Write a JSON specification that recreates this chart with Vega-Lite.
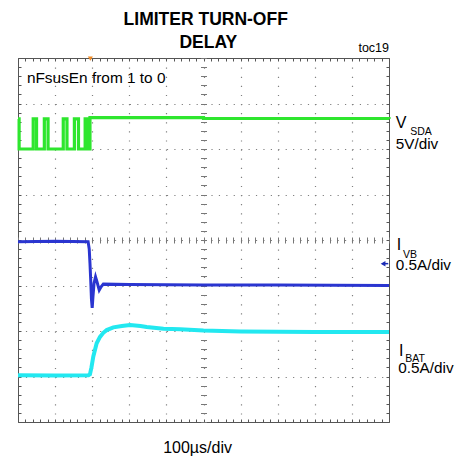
{
  "$schema": "https://vega.github.io/schema/vega-lite/v6.json",
  "width": 371,
  "height": 364,
  "autosize": "none",
  "padding": {"left": 18, "top": 58, "right": 71, "bottom": 38},
  "background": "white",
  "config": {
    "view": {"stroke": "#555555", "strokeWidth": 1},
    "font": "Liberation Sans",
    "text": {"font": "Liberation Sans", "fontSize": 15.3, "color": "#000000", "align": "left", "baseline": "alphabetic"}
  },
  "datasets": {
    "traces": [
      {"series": "VSDA", "t": 0, "v": 6.66},
      {"series": "VSDA", "t": 3, "v": 6.0},
      {"series": "VSDA", "t": 41, "v": 6.66},
      {"series": "VSDA", "t": 50, "v": 6.0},
      {"series": "VSDA", "t": 71, "v": 6.66},
      {"series": "VSDA", "t": 81, "v": 6.0},
      {"series": "VSDA", "t": 122, "v": 6.66},
      {"series": "VSDA", "t": 132, "v": 6.0},
      {"series": "VSDA", "t": 152, "v": 6.66},
      {"series": "VSDA", "t": 163, "v": 6.0},
      {"series": "VSDA", "t": 181, "v": 6.66},
      {"series": "VSDA", "t": 188, "v": 6.0},
      {"series": "VSDA", "t": 194, "v": 6.69},
      {"series": "VSDA", "t": 300, "v": 6.69},
      {"series": "VSDA", "t": 500, "v": 6.67},
      {"series": "VSDA", "t": 700, "v": 6.67},
      {"series": "VSDA", "t": 1000, "v": 6.66},
      {"series": "IVB", "t": 0, "v": 3.96},
      {"series": "IVB", "t": 100, "v": 3.97},
      {"series": "IVB", "t": 189, "v": 3.96},
      {"series": "IVB", "t": 192, "v": 3.8},
      {"series": "IVB", "t": 194, "v": 3.49},
      {"series": "IVB", "t": 196, "v": 3.12},
      {"series": "IVB", "t": 198, "v": 2.7},
      {"series": "IVB", "t": 200, "v": 2.51},
      {"series": "IVB", "t": 202, "v": 2.75},
      {"series": "IVB", "t": 205, "v": 3.05},
      {"series": "IVB", "t": 209, "v": 3.19},
      {"series": "IVB", "t": 213, "v": 3.08},
      {"series": "IVB", "t": 219, "v": 2.9},
      {"series": "IVB", "t": 224, "v": 2.97},
      {"series": "IVB", "t": 230, "v": 3.03},
      {"series": "IVB", "t": 300, "v": 3.02},
      {"series": "IVB", "t": 500, "v": 3.01},
      {"series": "IVB", "t": 700, "v": 3.01},
      {"series": "IVB", "t": 1000, "v": 3.0},
      {"series": "IBAT", "t": 0, "v": 1.03},
      {"series": "IBAT", "t": 100, "v": 1.02},
      {"series": "IBAT", "t": 190, "v": 1.03},
      {"series": "IBAT", "t": 194, "v": 1.05},
      {"series": "IBAT", "t": 198, "v": 1.2},
      {"series": "IBAT", "t": 203, "v": 1.44},
      {"series": "IBAT", "t": 212, "v": 1.73},
      {"series": "IBAT", "t": 221, "v": 1.87},
      {"series": "IBAT", "t": 230, "v": 1.96},
      {"series": "IBAT", "t": 239, "v": 2.02},
      {"series": "IBAT", "t": 257, "v": 2.08},
      {"series": "IBAT", "t": 280, "v": 2.11},
      {"series": "IBAT", "t": 302, "v": 2.13},
      {"series": "IBAT", "t": 330, "v": 2.11},
      {"series": "IBAT", "t": 347, "v": 2.09},
      {"series": "IBAT", "t": 392, "v": 2.05},
      {"series": "IBAT", "t": 437, "v": 2.04},
      {"series": "IBAT", "t": 500, "v": 2.01},
      {"series": "IBAT", "t": 600, "v": 1.99},
      {"series": "IBAT", "t": 800, "v": 1.98},
      {"series": "IBAT", "t": 1000, "v": 1.98}
    ]
  },
  "data": {"name": "traces"},
  "layer": [
    {
      "mark": {"type": "point", "opacity": 0},
      "encoding": {
        "x": {"field": "t", "type": "quantitative", "scale": {"domain": [0, 1000], "nice": false, "zero": false},
          "axis": {"orient": "bottom", "title": null, "labels": false, "domain": false, "tickCount": 50,
            "ticks": true, "tickSize": -3, "tickColor": "#555555", "tickWidth": 1,
            "grid": true, "gridColor": "#808080", "gridWidth": 1.2, "gridDash": [1.2, 7.9],
            "gridOpacity": {"condition": {"test": "datum.value % 100 === 0 && datum.value > 0 && datum.value < 1000", "value": 1}, "value": 0}}},
        "y": {"field": "v", "type": "quantitative", "scale": {"domain": [0, 8], "nice": false, "zero": false},
          "axis": {"orient": "left", "title": null, "labels": false, "domain": false, "tickCount": 40,
            "ticks": true, "tickSize": -3, "tickColor": "#555555", "tickWidth": 1,
            "grid": true, "gridColor": "#808080", "gridWidth": 1.2, "gridDash": [1.2, 6.22],
            "gridOpacity": {"condition": {"test": "abs(datum.value - round(datum.value)) < 0.001 && datum.value > 0.5 && datum.value < 7.5", "value": 1}, "value": 0}}}
      }
    },
    {
      "mark": {"type": "point", "opacity": 0},
      "encoding": {
        "x": {"field": "t", "type": "quantitative", "scale": {"domain": [0, 1000], "nice": false, "zero": false},
          "axis": {"orient": "top", "title": null, "labels": false, "domain": false, "grid": false, "tickCount": 50,
            "tickSize": -3, "tickColor": "#555555", "tickWidth": 1}},
        "y": {"field": "v", "type": "quantitative", "scale": {"domain": [0, 8], "nice": false, "zero": false},
          "axis": {"orient": "right", "title": null, "labels": false, "domain": false, "grid": false, "tickCount": 40,
            "tickSize": -3, "tickColor": "#555555", "tickWidth": 1}}
      }
    },
    {
      "mark": {"type": "point", "opacity": 0},
      "encoding": {
        "x": {"field": "t", "type": "quantitative", "scale": {"domain": [0, 1000], "nice": false, "zero": false},
          "axis": {"orient": "bottom", "offset": -185, "title": null, "labels": false, "domain": false, "grid": false, "tickCount": 50,
            "tickSize": 6, "tickColor": "#777777", "tickWidth": 1}},
        "y": {"field": "v", "type": "quantitative", "scale": {"domain": [0, 8], "nice": false, "zero": false},
          "axis": {"orient": "left", "offset": -188.5, "title": null, "labels": false, "domain": false, "grid": false, "tickCount": 40,
            "tickSize": 6, "tickColor": "#777777", "tickWidth": 1}}
      }
    },
    {
      "transform": [{"filter": "datum.series === 'VSDA'"}],
      "mark": {"type": "line", "interpolate": "step-after", "color": "#2ee62e", "strokeWidth": 3.2},
      "encoding": {
        "x": {"field": "t", "type": "quantitative", "scale": {"domain": [0, 1000]}, "axis": null},
        "y": {"field": "v", "type": "quantitative", "scale": {"domain": [0, 8]}, "axis": null}
      }
    },
    {
      "transform": [{"filter": "datum.series === 'IVB'"}],
      "mark": {"type": "line", "color": "#2a35d0", "strokeWidth": 3},
      "encoding": {
        "x": {"field": "t", "type": "quantitative", "scale": {"domain": [0, 1000]}, "axis": null},
        "y": {"field": "v", "type": "quantitative", "scale": {"domain": [0, 8]}, "axis": null}
      }
    },
    {
      "transform": [{"filter": "datum.series === 'IBAT'"}],
      "mark": {"type": "line", "color": "#22e8f0", "strokeWidth": 4},
      "encoding": {
        "x": {"field": "t", "type": "quantitative", "scale": {"domain": [0, 1000]}, "axis": null},
        "y": {"field": "v", "type": "quantitative", "scale": {"domain": [0, 8]}, "axis": null}
      }
    },
    {
      "data": {"values": [{}]},
      "mark": {"type": "point", "shape": "triangle-down", "filled": true, "color": "#f08a24", "size": 25, "opacity": 1},
      "encoding": {"x": {"datum": 195, "type": "quantitative", "axis": null}, "y": {"datum": 7.985, "type": "quantitative", "axis": null}}
    },
    {
      "data": {"values": [{}]},
      "mark": {"type": "rule", "color": "#1a2ab5", "strokeWidth": 1.5},
      "encoding": {"x": {"datum": 983, "type": "quantitative", "axis": null}, "x2": {"datum": 998}, "y": {"datum": 3.48, "type": "quantitative", "axis": null}}
    },
    {
      "data": {"values": [{}]},
      "mark": {"type": "point", "shape": "triangle-left", "filled": true, "color": "#1a2ab5", "size": 30, "opacity": 1},
      "encoding": {"x": {"datum": 984, "type": "quantitative", "axis": null}, "y": {"datum": 3.48, "type": "quantitative", "axis": null}}
    },
    {
      "data": {"values": [{}]},
      "mark": {"type": "text", "text": "LIMITER TURN-OFF", "fontWeight": "bold", "fontSize": 17.5, "align": "center"},
      "encoding": {"x": {"datum": 506, "type": "quantitative", "axis": null}, "y": {"datum": 8.725, "type": "quantitative", "axis": null}}
    },
    {
      "data": {"values": [{}]},
      "mark": {"type": "text", "text": "DELAY", "fontWeight": "bold", "fontSize": 17.5, "align": "center"},
      "encoding": {"x": {"datum": 513, "type": "quantitative", "axis": null}, "y": {"datum": 8.21, "type": "quantitative", "axis": null}}
    },
    {
      "data": {"values": [{}]},
      "mark": {"type": "text", "text": "toc19", "fontSize": 12.5, "align": "right"},
      "encoding": {"x": {"datum": 1000, "type": "quantitative", "axis": null}, "y": {"datum": 8.14, "type": "quantitative", "axis": null}}
    },
    {
      "data": {"values": [{}]},
      "mark": {"type": "text", "text": "nFsusEn from 1 to 0", "fontSize": 15.4},
      "encoding": {"x": {"datum": 24, "type": "quantitative", "axis": null}, "y": {"datum": 7.45, "type": "quantitative", "axis": null}}
    },
    {
      "data": {"values": [{}]},
      "mark": {"type": "text", "text": "V", "fontSize": 16},
      "encoding": {"x": {"datum": 1018, "type": "quantitative", "axis": null}, "y": {"datum": 6.46, "type": "quantitative", "axis": null}}
    },
    {
      "data": {"values": [{}]},
      "mark": {"type": "text", "text": "SDA", "fontSize": 10.5},
      "encoding": {"x": {"datum": 1057, "type": "quantitative", "axis": null}, "y": {"datum": 6.3, "type": "quantitative", "axis": null}}
    },
    {
      "data": {"values": [{}]},
      "mark": {"type": "text", "text": "5V/div"},
      "encoding": {"x": {"datum": 1018, "type": "quantitative", "axis": null}, "y": {"datum": 5.99, "type": "quantitative", "axis": null}}
    },
    {
      "data": {"values": [{}]},
      "mark": {"type": "text", "text": "I", "fontSize": 16},
      "encoding": {"x": {"datum": 1021, "type": "quantitative", "axis": null}, "y": {"datum": 3.78, "type": "quantitative", "axis": null}}
    },
    {
      "data": {"values": [{}]},
      "mark": {"type": "text", "text": "VB", "fontSize": 10.5},
      "encoding": {"x": {"datum": 1038, "type": "quantitative", "axis": null}, "y": {"datum": 3.6, "type": "quantitative", "axis": null}}
    },
    {
      "data": {"values": [{}]},
      "mark": {"type": "text", "text": "0.5A/div"},
      "encoding": {"x": {"datum": 1018, "type": "quantitative", "axis": null}, "y": {"datum": 3.34, "type": "quantitative", "axis": null}}
    },
    {
      "data": {"values": [{}]},
      "mark": {"type": "text", "text": "I", "fontSize": 16},
      "encoding": {"x": {"datum": 1027, "type": "quantitative", "axis": null}, "y": {"datum": 1.44, "type": "quantitative", "axis": null}}
    },
    {
      "data": {"values": [{}]},
      "mark": {"type": "text", "text": "BAT", "fontSize": 10.5},
      "encoding": {"x": {"datum": 1044, "type": "quantitative", "axis": null}, "y": {"datum": 1.31, "type": "quantitative", "axis": null}}
    },
    {
      "data": {"values": [{}]},
      "mark": {"type": "text", "text": "0.5A/div"},
      "encoding": {"x": {"datum": 1025, "type": "quantitative", "axis": null}, "y": {"datum": 1.07, "type": "quantitative", "axis": null}}
    },
    {
      "data": {"values": [{}]},
      "mark": {"type": "text", "text": "100µs/div", "fontSize": 16, "align": "center"},
      "encoding": {"x": {"datum": 484, "type": "quantitative", "axis": null}, "y": {"datum": -0.68, "type": "quantitative", "axis": null}}
    }
  ],
  "resolve": {"axis": {"x": "independent", "y": "independent"}}
}
